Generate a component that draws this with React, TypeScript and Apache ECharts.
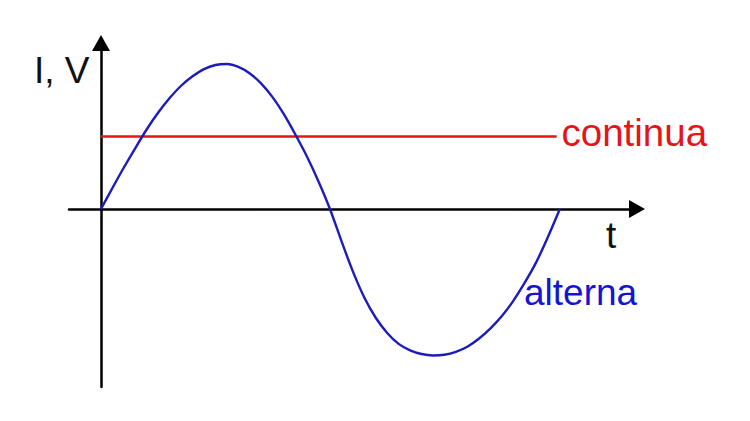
import React, { useEffect, useRef } from "react";
import * as echarts from "echarts";

// time (ms) and value (relative amplitude)
const acTime = [
  0, 0.5, 1, 1.5, 2, 2.5, 3, 3.5, 4, 4.5, 5, 5.5, 6, 6.5, 7, 7.5, 8, 8.5, 9, 9.5, 10,
  10.5, 11, 11.5, 12, 12.5, 13, 13.5, 14, 14.5, 15, 15.5, 16, 16.5, 17, 17.5, 18, 18.5, 19, 19.5, 20.04,
];
const acValue = [
  0, 0.145, 0.286, 0.42, 0.55, 0.665, 0.765, 0.85, 0.915, 0.965, 0.993, 1.0, 0.98, 0.935, 0.865, 0.77, 0.65, 0.51, 0.36, 0.19, 0,
  -0.22, -0.43, -0.61, -0.75, -0.855, -0.93, -0.975, -1.0, -1.01, -1.005, -0.985, -0.95, -0.895, -0.825, -0.74, -0.635, -0.51, -0.37, -0.2, 0,
];
const dcTime = [0, 19.9];
const dcValue = [0.5, 0.5];

const axisLabelY = "I, V";
const axisLabelX = "t";
const dcName = "continua";
const acName = "alterna";

const RED = "#e5141b";
const BLUE_LINE = "#1c1cbe";
const BLUE_TEXT = "#1414d2";
const FONT = "Liberation Sans, Arial, sans-serif";

export default function App() {
  const ref = useRef<HTMLDivElement>(null);
  useEffect(() => {
    if (!ref.current) return;
    const chart = echarts.init(ref.current, null, { renderer: "svg" });
    const axisLine = {
      show: true,
      onZero: true,
      symbol: ["none", "triangle"],
      symbolSize: [18, 16],
      lineStyle: { color: "#000", width: 2.5 },
    };
    chart.setOption({
      animation: false,
      backgroundColor: "#fff",
      grid: { left: 69, right: 113, top: 43, bottom: 34 },
      xAxis: {
        type: "value",
        min: -1.397,
        max: 23.41,
        axisLine,
        axisTick: { show: false },
        axisLabel: { show: false },
        splitLine: { show: false },
      },
      yAxis: {
        type: "value",
        min: -1.2276,
        max: 1.1448,
        axisLine,
        axisTick: { show: false },
        axisLabel: { show: false },
        splitLine: { show: false },
      },
      series: [
        {
          type: "line",
          name: dcName,
          data: dcTime.map((t, i) => [t, dcValue[i]]),
          showSymbol: false,
          lineStyle: { color: RED, width: 2.5 },
          z: 3,
        },
        {
          type: "line",
          name: acName,
          data: acTime.map((t, i) => [t, acValue[i]]),
          smooth: 0.3,
          showSymbol: false,
          lineStyle: { color: BLUE_LINE, width: 2.4 },
          z: 4,
        },
      ],
      graphic: [
        {
          type: "text",
          x: 34,
          y: 70,
          style: { text: axisLabelY, font: `37px ${FONT}`, fill: "#111", textVerticalAlign: "middle" },
        },
        {
          type: "text",
          x: 606,
          y: 235,
          style: { text: axisLabelX, font: `37px ${FONT}`, fill: "#111", textVerticalAlign: "middle" },
        },
        {
          type: "text",
          x: 561.5,
          y: 132,
          style: { text: dcName, font: `38.5px ${FONT}`, fill: RED, textVerticalAlign: "middle" },
        },
        {
          type: "text",
          x: 524,
          y: 292,
          style: { text: acName, font: `37px ${FONT}`, fill: BLUE_TEXT, textVerticalAlign: "middle" },
        },
      ],
    });
    return () => chart.dispose();
  }, []);
  return (
    <div
      ref={ref}
      style={{ position: "fixed", left: 0, top: 0, width: 750, height: 421 }}
    />
  );
}
